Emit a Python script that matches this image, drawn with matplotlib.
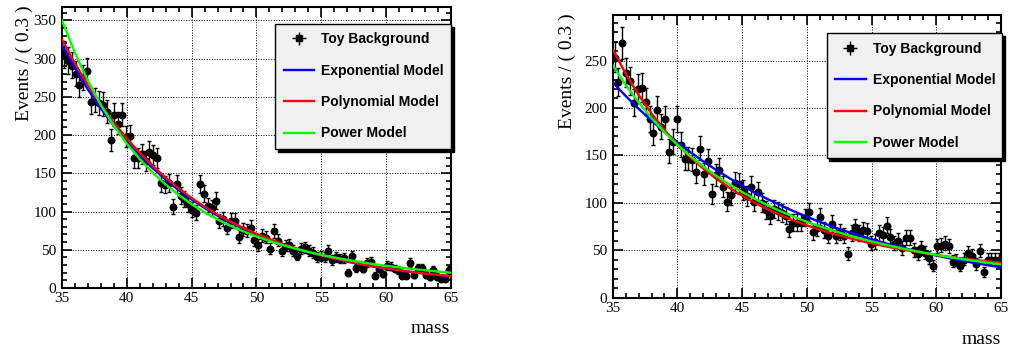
import numpy as np
import matplotlib.pyplot as plt
from matplotlib.ticker import MultipleLocator
from matplotlib.font_manager import FontProperties

# ==========================================
# Toy background fits: exponential / polynomial / power
# ==========================================

# --- Binning (100 bins of 0.3 GeV in mass) ---
MASS_LO, MASS_HI, N_BINS = 35.0, 65.0, 100

# --- Toy data, events per bin ---
counts_left = [
    305, 297, 291, 280, 265, 275, 284, 243, 245, 242,
    240, 230, 193, 226, 215, 226, 198, 199, 170, 170,
    175, 166, 178, 174, 170, 137, 135, 137, 106, 136,
    121, 116, 110, 102, 98, 136, 123, 107, 104, 114,
    87, 90, 79, 88, 88, 67, 76, 75, 79, 63,
    56, 68, 66, 51, 74, 62, 49, 55, 56, 49,
    42, 51, 53, 49, 46, 40, 41, 40, 49, 36,
    40, 38, 39, 20, 42, 26, 29, 25, 33, 34,
    16, 25, 18, 29, 28, 25, 23, 16, 16, 33,
    17, 26, 26, 17, 14, 24, 15, 12, 12, 23,
]
counts_right = [
    253, 227, 268, 237, 228, 205, 220, 221, 206, 188,
    174, 198, 180, 188, 154, 164, 188, 161, 146, 146,
    145, 132, 157, 130, 144, 109, 129, 135, 117, 101,
    108, 121, 120, 113, 107, 117, 101, 111, 100, 92,
    86, 93, 91, 89, 86, 72, 79, 79, 79, 84,
    90, 69, 73, 85, 71, 65, 78, 65, 69, 65,
    46, 68, 74, 68, 71, 70, 57, 59, 68, 66,
    76, 64, 57, 60, 52, 63, 63, 50, 46, 52,
    47, 42, 33, 54, 55, 57, 54, 38, 39, 33,
    40, 47, 44, 35, 49, 27, 40, 40, 40, 40,
]

# --- Fitted model curves, sampled every 1 unit of mass ---
curve_mass = list(range(35, 66))
exp_left = [318.0, 287.4, 259.8, 234.8, 212.3, 191.9, 173.4, 156.8, 141.7, 128.1,
            115.8, 104.7, 94.6, 85.5, 77.3, 69.9, 63.2, 57.1, 51.6, 46.6,
            42.2, 38.1, 34.4, 31.1, 28.1, 25.4, 23.0, 20.8, 18.8, 17.0, 15.4]
poly_left = [325.0, 293.6, 265.3, 239.6, 216.5, 195.6, 176.7, 159.6, 144.2, 130.3,
             117.7, 106.3, 96.0, 86.8, 78.4, 70.8, 64.0, 57.8, 52.2, 47.2,
             42.6, 38.5, 34.8, 31.4, 28.4, 25.6, 23.2, 20.9, 18.9, 17.1, 15.4]
power_left = [350.0, 307.3, 270.8, 239.4, 212.3, 188.9, 168.5, 150.7, 135.2, 121.6,
              109.6, 99.0, 89.7, 81.3, 73.9, 67.3, 61.5, 56.2, 51.5, 47.2,
              43.4, 39.9, 36.8, 33.9, 31.3, 29.0, 26.9, 24.9, 23.2, 21.5, 20.0]
exp_right = [227.0, 212.7, 199.2, 186.6, 174.8, 163.8, 153.4, 143.7, 134.6, 126.1,
             118.2, 110.7, 103.7, 97.1, 91.0, 85.3, 79.9, 74.8, 70.1, 65.7,
             61.5, 57.6, 54.0, 50.6, 47.4, 44.4, 41.6, 38.9, 36.5, 34.2, 32.0]
poly_right = [262.0, 236.2, 213.8, 194.1, 176.8, 161.5, 148.1, 136.1, 125.5, 116.0,
              107.5, 99.8, 93.0, 86.8, 81.3, 76.2, 71.7, 67.5, 63.8, 60.3,
              57.2, 54.3, 51.7, 49.3, 47.1, 45.0, 43.1, 41.4, 39.8, 38.3, 37.0]
power_right = [245.0, 224.3, 205.8, 189.2, 174.4, 161.1, 149.1, 138.2, 128.4, 119.4,
               111.3, 103.9, 97.1, 90.9, 85.2, 79.9, 75.1, 70.7, 66.6, 62.8,
               59.3, 56.0, 53.0, 50.2, 47.5, 45.1, 42.8, 40.7, 38.7, 36.8, 35.1]

model_labels = ['Exponential Model', 'Polynomial Model', 'Power Model']
model_colors = ['#0000ff', '#ff0000', '#00ff00']

TICK_FONT = FontProperties(family='Liberation Serif', size=11)
TITLE_FONT = FontProperties(family='Liberation Serif', size=14)
LEGEND_FONT = FontProperties(family='Liberation Sans', weight='bold', size=10)


def draw_panel(ax, counts, curves, ymax, leg_box):
    """One ROOT-style frame: data with Poisson bars, three model curves, legend."""
    edges = np.linspace(MASS_LO, MASS_HI, N_BINS + 1)
    centers = 0.5 * (edges[1:] + edges[:-1])
    n = np.array(counts, dtype=float)
    # approximate asymmetric Poisson errors
    lo = np.sqrt(n + 0.25) - 0.5
    hi = np.sqrt(n + 0.25) + 0.5

    ax.errorbar(centers, n, yerr=[lo, hi], fmt='o', color='black', ms=4.7,
                elinewidth=1.0, capsize=1.3, capthick=1.0, zorder=3)
    model_lines = []
    for vals, col in zip(curves, model_colors):
        line, = ax.plot(curve_mass, vals, color=col, lw=1.7, zorder=4)
        model_lines.append(line)

    ax.set_xlim(MASS_LO, MASS_HI)
    ax.set_ylim(0, ymax)
    ax.xaxis.set_major_locator(MultipleLocator(5))
    ax.xaxis.set_minor_locator(MultipleLocator(1))
    ax.yaxis.set_major_locator(MultipleLocator(50))
    ax.yaxis.set_minor_locator(MultipleLocator(10))
    ax.tick_params(which='both', direction='in', top=True, right=True, width=1.2)
    ax.tick_params(which='major', length=7)
    ax.tick_params(which='minor', length=3.5)
    ax.tick_params(axis='x', pad=3)
    ax.tick_params(axis='y', pad=4)
    for lab in ax.get_xticklabels() + ax.get_yticklabels():
        lab.set_fontproperties(TICK_FONT)
    for sp in ax.spines.values():
        sp.set_linewidth(1.5)
    ax.grid(True, which='major', color='black', linestyle=':', linewidth=0.7)
    ax.set_axisbelow(True)

    # legend proxy for the data entry (square marker with cross)
    proxy = ax.errorbar([np.nan], [np.nan], xerr=[1], yerr=[1], fmt='s',
                        color='black', ms=4, elinewidth=1.0, capsize=0)
    handles = [proxy] + model_lines
    labels = ['Toy Background'] + model_labels
    x0, y0, x1, y1 = leg_box
    leg = ax.legend(handles, labels, loc='upper left',
                    bbox_to_anchor=(x0, y0, x1 - x0, y1 - y0), mode='expand',
                    borderaxespad=0, prop=LEGEND_FONT, handlelength=2.2,
                    handletextpad=0.5, labelspacing=1.25, borderpad=0.6,
                    fancybox=False, shadow={'color': 'black', 'alpha': 1},
                    facecolor='#f0f0f0', edgecolor='black', framealpha=1)
    leg.get_frame().set_linewidth(1.0)


fig = plt.figure(figsize=(10.09, 3.49), dpi=100)
ax1 = fig.add_axes([0.0614, 0.1748, 0.3855, 0.806])
ax2 = fig.add_axes([0.6072, 0.147, 0.385, 0.81])

draw_panel(ax1, counts_left, [exp_left, poly_left, power_left], 368,
           (0.549, 0.494, 1.0, 0.9385))
draw_panel(ax2, counts_right, [exp_right, poly_right, power_right], 298,
           (0.551, 0.493, 1.002, 0.935))

fig.text(0.024, 0.819, 'Events / ( 0.3 )', rotation=90, ha='center', va='center',
         fontproperties=TITLE_FONT)
fig.text(0.562, 0.797, 'Events / ( 0.3 )', rotation=90, ha='center', va='center',
         fontproperties=TITLE_FONT)
fig.text(0.446, 0.046, 'mass', ha='right', va='baseline', fontproperties=TITLE_FONT)
fig.text(0.992, 0.0143, 'mass', ha='right', va='baseline', fontproperties=TITLE_FONT)

fig.savefig('out.png', dpi=100)
